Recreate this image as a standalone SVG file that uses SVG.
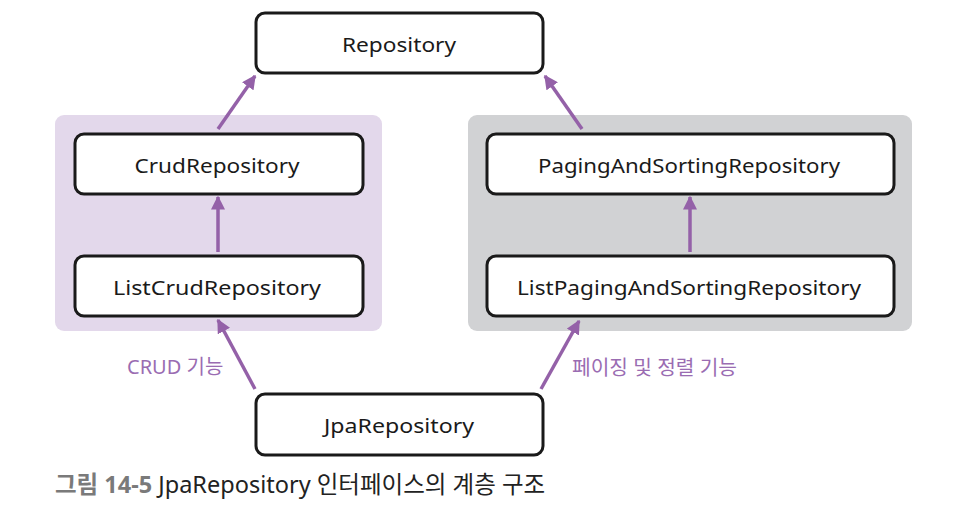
<svg xmlns="http://www.w3.org/2000/svg" width="978" height="525" viewBox="0 0 978 525">
<style>
.node rect{fill:#fff;stroke:#1a1a1a;stroke-width:3}
.node text{font-family:"Noto Sans","DejaVu Sans",sans-serif;font-size:20px;fill:#1a1a1a;text-anchor:middle}
.conn line{stroke:#9461a8;stroke-width:3.5;fill:none}
.lbl{font-family:"Noto Sans","Noto Sans CJK KR",sans-serif;font-size:20px;fill:#9a6cb2}
.cap{font-family:"Noto Sans","Noto Sans CJK KR",sans-serif;font-size:23.5px}
</style>
<defs>
<marker id="ah" viewBox="0 0 10 10" refX="9" refY="5" markerWidth="4" markerHeight="4" markerUnits="strokeWidth" orient="auto">
<path d="M0,0 L10,5 L0,10 Z" fill="#9461a8"/>
</marker>
</defs>
<rect id="panel-crud" x="55" y="115" width="327" height="216" rx="9" fill="#e3d8eb"/>
<rect id="panel-paging" x="468" y="115" width="444" height="216" rx="9" fill="#d1d2d4"/>
<g class="conn">
<line x1="218" y1="129" x2="255" y2="76" marker-end="url(#ah)"/>
<line x1="582" y1="129" x2="545" y2="76" marker-end="url(#ah)"/>
<line x1="218" y1="252" x2="218" y2="197" marker-end="url(#ah)"/>
<line x1="690" y1="252" x2="690" y2="197" marker-end="url(#ah)"/>
<line x1="255" y1="389" x2="218" y2="320" marker-end="url(#ah)"/>
<line x1="541" y1="389" x2="579" y2="321" marker-end="url(#ah)"/>
</g>
<g id="repository" class="node"><rect x="256" y="13" width="287" height="60" rx="9"/><text x="399" y="52" textLength="114" lengthAdjust="spacingAndGlyphs">Repository</text></g>
<g id="crud" class="node"><rect x="75" y="134" width="288" height="60" rx="9"/><text x="217" y="173" textLength="165" lengthAdjust="spacingAndGlyphs">CrudRepository</text></g>
<g id="listcrud" class="node"><rect x="75" y="256" width="288" height="60" rx="9"/><text x="217" y="295" textLength="208" lengthAdjust="spacingAndGlyphs">ListCrudRepository</text></g>
<g id="paging" class="node"><rect x="487" y="134" width="407" height="60" rx="9"/><text x="689" y="173" textLength="302" lengthAdjust="spacingAndGlyphs">PagingAndSortingRepository</text></g>
<g id="listpaging" class="node"><rect x="487" y="256" width="407" height="60" rx="9"/><text x="689" y="295" textLength="344" lengthAdjust="spacingAndGlyphs">ListPagingAndSortingRepository</text></g>
<g id="jpa" class="node"><rect x="256" y="394" width="287" height="61" rx="9"/><text x="399" y="433" textLength="150" lengthAdjust="spacingAndGlyphs">JpaRepository</text></g>
<text class="lbl" x="127" y="374">CRUD 기능</text>
<text class="lbl" x="572" y="375" textLength="165" lengthAdjust="spacingAndGlyphs">페이징 및 정렬 기능</text>
<text class="cap" x="55" y="493"><tspan fill="#7a7a7a" font-weight="bold">그림 14-5</tspan><tspan fill="#222"> JpaRepository 인터페이스의 계층 구조</tspan></text>
</svg>
